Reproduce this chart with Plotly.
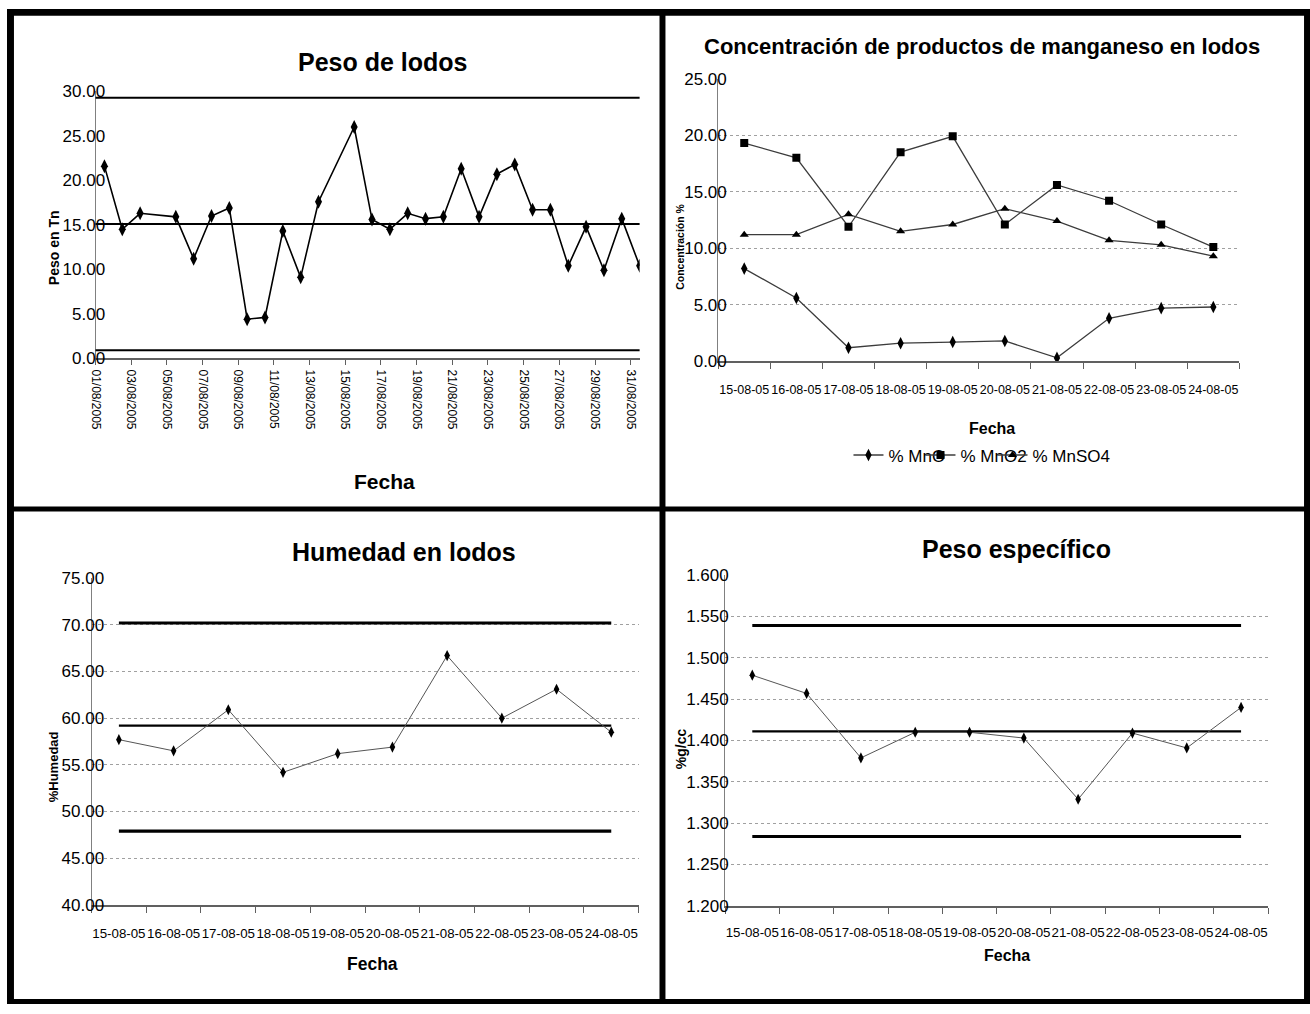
import pandas as pd
import plotly.graph_objects as go

# ---------------- Peso de lodos (agosto 2005) ----------------
peso_fechas = [
    "2005-08-01", "2005-08-02", "2005-08-03", "2005-08-05", "2005-08-06",
    "2005-08-07", "2005-08-08", "2005-08-09", "2005-08-10", "2005-08-11",
    "2005-08-12", "2005-08-13", "2005-08-15", "2005-08-16", "2005-08-17",
    "2005-08-18", "2005-08-19", "2005-08-20", "2005-08-21", "2005-08-22",
    "2005-08-23", "2005-08-24", "2005-08-25", "2005-08-26", "2005-08-27",
    "2005-08-28", "2005-08-29", "2005-08-30", "2005-08-31",
]
peso_tn = [
    21.6, 14.5, 16.3, 15.9, 11.2, 16.0, 16.9, 4.4, 4.6, 14.3,
    9.1, 17.6, 26.0, 15.6, 14.5, 16.3, 15.7, 15.9, 21.3, 15.9,
    20.7, 21.8, 16.7, 16.7, 10.4, 14.8, 9.9, 15.7, 10.4,
]
peso_limites = [29.3, 15.1, 0.9]          # LSC, media, LIC

# ---------------- Muestreo 15-24 agosto ----------------
fechas = ["15-08-05", "16-08-05", "17-08-05", "18-08-05", "19-08-05",
          "20-08-05", "21-08-05", "22-08-05", "23-08-05", "24-08-05"]
mno = [8.2, 5.6, 1.2, 1.6, 1.7, 1.8, 0.3, 3.8, 4.7, 4.8]
mno2 = [19.3, 18.0, 11.9, 18.5, 19.9, 12.1, 15.6, 14.2, 12.1, 10.1]
mnso4 = [11.2, 11.2, 13.0, 11.5, 12.1, 13.5, 12.4, 10.7, 10.3, 9.3]

humedad = [57.7, 56.5, 60.9, 54.2, 56.2, 56.9, 66.7, 60.0, 63.1, 58.5]
humedad_limites = [70.2, 59.2, 47.9]      # LSC, media, LIC

peso_esp = [1.479, 1.457, 1.379, 1.410, 1.410, 1.403, 1.329, 1.409, 1.391, 1.440]
peso_esp_limites = [1.539, 1.411, 1.284]  # LSC, media, LIC

W, H = 1310, 1014
FONT = "Liberation Sans, Arial, sans-serif"


def px(x):
    return x / W


def py(y):
    return 1 - y / H


fig = go.Figure()

# ---- panel 1: Peso de lodos ----
dias = pd.to_datetime(peso_fechas) + pd.Timedelta(hours=12)
fig.add_trace(go.Scatter(
    x=dias, y=peso_tn, mode="lines+markers", xaxis="x", yaxis="y",
    line=dict(color="black", width=1.6),
    marker=dict(symbol="diamond-tall", size=10, color="black"),
    showlegend=False))

# ---- panel 2: Concentración de productos de manganeso ----
series_mn = [("% MnO", mno, "diamond-tall", 9, None),
             ("% MnO2", mno2, "square", 8, None),
             ("% MnSO4", mnso4, "triangle-up", 8, 90)]
for nombre, vals, simb, tam, ancho_ley in series_mn:
    fig.add_trace(go.Scatter(
        x=fechas, y=vals, mode="lines+markers", name=nombre,
        xaxis="x2", yaxis="y2",
        line=dict(color="#3c3c3c", width=1.3),
        marker=dict(symbol=simb, size=tam, color="black"),
        legendwidth=ancho_ley, showlegend=True))

# ---- panel 3: Humedad en lodos ----
for val, ancho in zip(humedad_limites, [3, 2.2, 3.2]):
    fig.add_trace(go.Scatter(
        x=fechas, y=[val] * len(fechas), mode="lines", xaxis="x3", yaxis="y3",
        line=dict(color="black", width=ancho), showlegend=False, hoverinfo="skip"))
fig.add_trace(go.Scatter(
    x=fechas, y=humedad, mode="lines+markers", xaxis="x3", yaxis="y3",
    line=dict(color="#555555", width=1),
    marker=dict(symbol="diamond-tall", size=8, color="black"),
    showlegend=False))

# ---- panel 4: Peso específico ----
for val, ancho in zip(peso_esp_limites, [3, 2.2, 3]):
    fig.add_trace(go.Scatter(
        x=fechas, y=[val] * len(fechas), mode="lines", xaxis="x4", yaxis="y4",
        line=dict(color="black", width=ancho), showlegend=False, hoverinfo="skip"))
fig.add_trace(go.Scatter(
    x=fechas, y=peso_esp, mode="lines+markers", xaxis="x4", yaxis="y4",
    line=dict(color="#555555", width=1),
    marker=dict(symbol="diamond-tall", size=8, color="black"),
    showlegend=False))

grid = dict(showgrid=True, gridcolor="#a0a0a0", gridwidth=1, griddash="dot")
ejey = dict(showline=True, linecolor="#808080", linewidth=1, ticks="",
            zeroline=False, tickfont=dict(size=17, color="black"))
ejex_cat = dict(type="category", range=[-0.5, 9.5], tickson="boundaries",
                ticks="outside", ticklen=6, tickcolor="#606060", tickangle=0,
                showline=True, linecolor="#606060", linewidth=1.5,
                showgrid=False, zeroline=False)

fig.update_layout(
    width=W, height=H, margin=dict(l=0, r=0, t=0, b=0),
    paper_bgcolor="white", plot_bgcolor="white",
    font=dict(family=FONT, color="black"),
    # panel 1
    xaxis=dict(domain=[px(89), px(636)], anchor="y", type="date",
               range=["2005-08-01", "2005-08-31 12:00"],
               tick0="2005-08-01", dtick=2 * 86400000, tickformat="%d/%m/%Y",
               tickangle=90, ticks="outside", ticklen=5, tickcolor="#606060",
               showline=True, linecolor="#606060", linewidth=1.5,
               showgrid=False, zeroline=False, tickfont=dict(size=12),
               ticklabelstandoff=2),
    yaxis=dict(domain=[py(356), py(84)], anchor="x", range=[0, 30], dtick=5,
               tickformat=".2f", showgrid=False, ticklabelstandoff=-14, **ejey),
    # panel 2
    xaxis2=dict(domain=[px(715), px(1239)], anchor="y2",
                tickfont=dict(size=12.5), ticklabelstandoff=16, **ejex_cat),
    yaxis2=dict(domain=[py(359), py(71)], anchor="x2", range=[0, 25], dtick=5,
                tickformat=".2f", ticklabelstandoff=-13, **grid, **ejey),
    # panel 3
    xaxis3=dict(domain=[px(85), px(635)], anchor="y3",
                tickfont=dict(size=13.3), ticklabelstandoff=15, **ejex_cat),
    yaxis3=dict(domain=[py(913), py(580)], anchor="x3", range=[40, 75], dtick=5,
                tickformat=".2f", ticklabelstandoff=-17, **grid, **ejey),
    # panel 4
    xaxis4=dict(domain=[px(722), px(1268)], anchor="y4",
                tickfont=dict(size=13.3), ticklabelstandoff=13, **ejex_cat),
    yaxis4=dict(domain=[py(914), py(577)], anchor="x4", range=[1.2, 1.6],
                dtick=0.05, tickformat=".3f", ticklabelstandoff=-8, **grid, **ejey),
    legend=dict(orientation="h", x=px(846), y=py(455), xanchor="left",
                yanchor="middle", font=dict(size=17), entrywidth=27,
                bgcolor="rgba(0,0,0,0)", itemwidth=30),
)

# control limits of panel 1 span the whole date axis
for val in peso_limites:
    fig.add_shape(type="line", xref="x domain", yref="y", x0=0, x1=1, y0=val, y1=val,
                  line=dict(color="black", width=2))

# panel frames
marcos = [(0, 0, W, 7), (0, H - 5, W, H), (0, 0, 7, H), (W - 6, 0, W, H),
          (656, 0, 662, H), (0, 507, W, 512)]
for x0, y0, x1, y1 in marcos:
    fig.add_shape(type="rect", xref="paper", yref="paper",
                  x0=px(x0), x1=px(x1), y0=py(y1), y1=py(y0),
                  fillcolor="black", line=dict(width=0), layer="above")

# titles and axis labels
textos = [
    ("Peso de lodos", 378, 54, 25, 0),
    ("Concentración de productos de manganeso en lodos", 980, 38, 22, 0),
    ("Humedad en lodos", 399, 553, 25, 0),
    ("Peso específico", 1015, 550, 25, 0),
    ("Fecha", 380, 482, 21, 0),
    ("Fecha", 990, 428, 16, 0),
    ("Fecha", 367, 973, 17.5, 0),
    ("Fecha", 1005, 965, 16, 0),
    ("Peso en Tn", 48, 243, 14, -90),
    ("Concentración %", 677, 242, 10.5, -90),
    ("%Humedad", 47, 772, 13, -90),
    ("%g/cc", 677, 754, 14, -90),
]
for txt, x, y, size, ang in textos:
    fig.add_annotation(text="<b>%s</b>" % txt, xref="paper", yref="paper",
                       x=px(x), y=py(y), xanchor="center", yanchor="middle",
                       showarrow=False, textangle=ang,
                       font=dict(size=size, color="black", family=FONT))

# page without default body margin; page colour matches the outer frame
fig.write_html("out.html",
               post_script="document.body.style.margin='0';"
                           "document.body.style.overflow='hidden';"
                           "document.documentElement.style.background='black';"
                           "document.body.style.background='black';")
